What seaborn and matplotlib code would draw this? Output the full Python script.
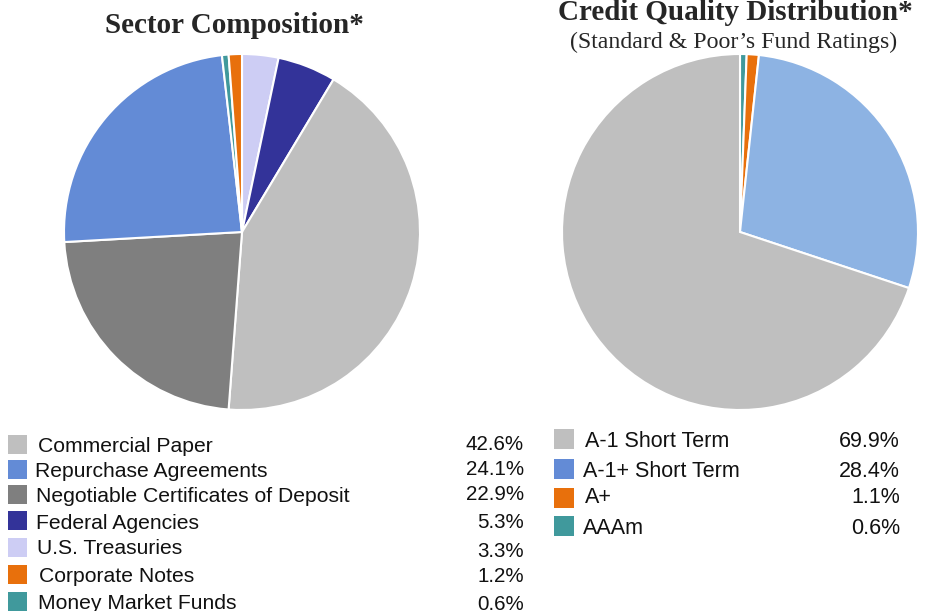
import matplotlib
matplotlib.use("Agg")
import matplotlib.pyplot as plt
import seaborn as sns

sns.set_theme(style="white")
plt.rcParams['font.family'] = ['Liberation Sans', 'DejaVu Sans']

# ---- data: sector composition (legend order) ----
sector_labels = ["Commercial Paper", "Repurchase Agreements",
                 "Negotiable Certificates of Deposit", "Federal Agencies",
                 "U.S. Treasuries", "Corporate Notes", "Money Market Funds"]
sector_values = [42.6, 24.1, 22.9, 5.3, 3.3, 1.2, 0.6]
sector_colors = ["#BFBFBF", "#638BD6", "#7F7F7F", "#333399",
                 "#CDCDF4", "#E8700C", "#40999C"]
# order in which the wedges run clockwise from 12 o'clock
sector_draw_order = [4, 3, 0, 2, 1, 6, 5]

# ---- data: credit quality (legend order) ----
credit_labels = ["A-1 Short Term", "A-1+ Short Term", "A+", "AAAm"]
credit_values = [69.9, 28.4, 1.1, 0.6]
credit_pie_colors = ["#BFBFBF", "#8DB3E3", "#E8700C", "#40999C"]
credit_legend_colors = ["#BFBFBF", "#638BD6", "#E8700C", "#40999C"]
credit_draw_order = [3, 2, 1, 0]

W, H = 925, 611
fig = plt.figure(figsize=(W / 100, H / 100), dpi=100)
fig.patch.set_facecolor("white")


def fx(px):
    return px / W


def fy(py):
    return 1 - py / H


def pie_axes(cx, cy, r):
    return fig.add_axes([fx(cx - r), fy(cy + r), (2 * r) / W, (2 * r) / H])


def draw_pie(ax, vals, cols):
    wedges, _ = ax.pie(vals, colors=cols, startangle=90, counterclock=False,
                       radius=1.0,
                       wedgeprops=dict(edgecolor="white", linewidth=1.5))
    for w in wedges:
        w.set_clip_on(False)
    ax.set_xlim(-1.0, 1.0)
    ax.set_ylim(-1.0, 1.0)
    ax.set_aspect("equal")
    ax.axis("off")


axL = pie_axes(242, 232, 178)
draw_pie(axL, [sector_values[i] for i in sector_draw_order],
         [sector_colors[i] for i in sector_draw_order])

axR = pie_axes(740, 232, 178)
draw_pie(axR, [credit_values[i] for i in credit_draw_order],
         [credit_pie_colors[i] for i in credit_draw_order])

# titles
serif = ['Liberation Serif', 'DejaVu Serif']
fig.text(fx(234), fy(33), "Sector Composition*", family=serif,
         fontsize=21, fontweight="bold", ha="center", va="baseline")
fig.text(fx(735), fy(20), "Credit Quality Distribution*", family=serif,
         fontsize=21, fontweight="bold", ha="center", va="baseline")
fig.text(fx(734), fy(48), "(Standard & Poor\u2019s Fund Ratings)", family=serif,
         fontsize=17.2, ha="center", va="baseline")

# left legend
sq = 19
left_rows = [444, 469, 494, 520, 547, 574, 601]
left_text_base = [452, 477, 502, 529, 554, 582, 609]
left_pct_base = [450, 475, 500, 528, 557, 582, 610]
left_text_x = [38, 35, 36, 36, 37, 39, 38]
for i, lab in enumerate(sector_labels):
    y = left_rows[i]
    fig.patches.append(plt.Rectangle((fx(8), fy(y + sq / 2)), sq / W, sq / H,
                                     transform=fig.transFigure,
                                     facecolor=sector_colors[i], edgecolor="none"))
    fig.text(fx(left_text_x[i]), fy(left_text_base[i]), lab, fontsize=15.2,
             ha="left", va="baseline", color="#111111")
    fig.text(fx(524), fy(left_pct_base[i]), f"{sector_values[i]:.1f}%",
             fontsize=14.8, ha="right", va="baseline", color="#111111")

# right legend
right_rows = [439, 469, 498, 526]
right_text_base = [447, 477, 503, 534]
right_text_x = [585, 583, 585, 583]
for i, lab in enumerate(credit_labels):
    y = right_rows[i]
    fig.patches.append(plt.Rectangle((fx(554), fy(y + 10)), 20 / W, 20 / H,
                                     transform=fig.transFigure,
                                     facecolor=credit_legend_colors[i], edgecolor="none"))
    fig.text(fx(right_text_x[i]), fy(right_text_base[i]), lab, fontsize=15.5,
             ha="left", va="baseline", color="#111111")
    fig.text(fx(900), fy(right_text_base[i]), f"{credit_values[i]:.1f}%",
             fontsize=15.5, ha="right", va="baseline", color="#111111")

fig.savefig("out.png", dpi=100, facecolor="white")
